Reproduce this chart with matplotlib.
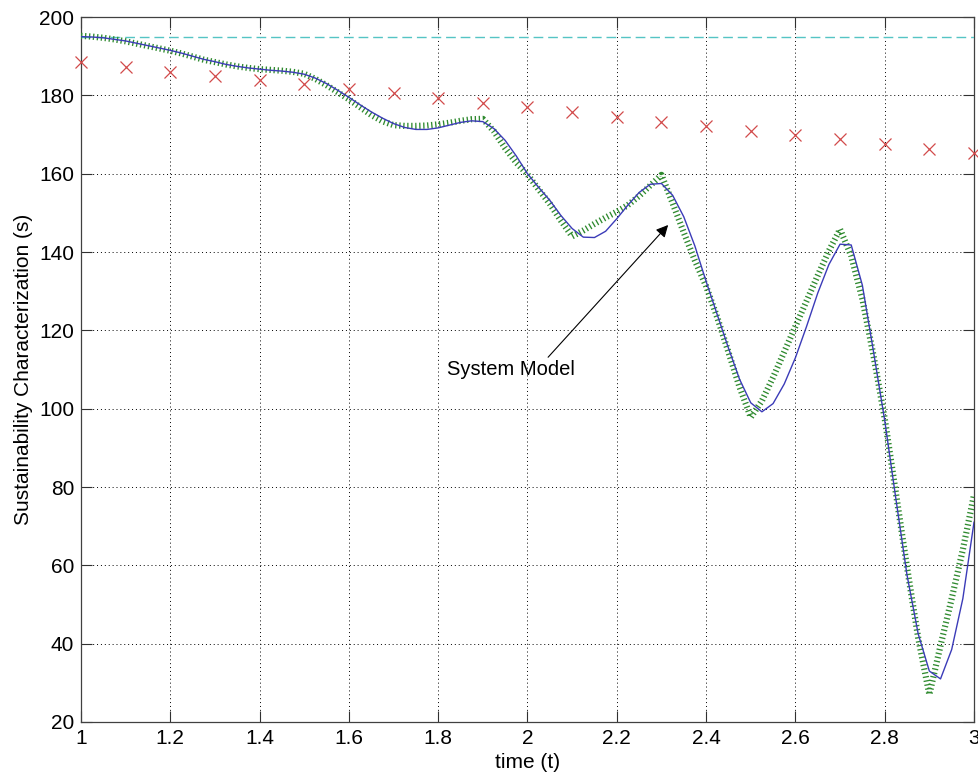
import numpy as np
import matplotlib
matplotlib.use('Agg')
import matplotlib.pyplot as plt
from matplotlib.ticker import FuncFormatter

plt.rcParams['font.family'] = ['Liberation Sans', 'DejaVu Sans']

# sample times of the model curves
t = np.round(np.arange(1.0, 3.0001, 0.025), 3)

# system model (solid blue)
model = [195.0, 194.9, 194.7, 194.3, 193.9, 193.3, 192.7, 192.1, 191.5, 190.8,
         190.0, 189.2, 188.6, 187.9, 187.4, 187.0, 186.7, 186.4, 186.2, 185.9,
         185.4, 184.4, 183.0, 181.3, 179.5, 177.6, 175.8, 174.2, 172.8, 171.8,
         171.3, 171.3, 171.7, 172.4, 173.1, 173.5, 173.3, 171.5, 168.5, 164.5,
         160.0, 156.5, 153.2, 149.3, 146.0, 143.8, 143.7, 145.3, 148.5, 152.0,
         155.2, 157.3, 157.5, 154.5, 149.0, 141.5, 132.5, 124.0, 115.5, 107.5,
         101.5, 99.2, 101.3, 106.3, 113.0, 121.0, 129.5, 136.8, 142.0, 141.8,
         131.5, 114.5, 97.0, 77.0, 57.5, 42.5, 33.0, 31.0, 38.5, 51.5,
         71.0]

# approximation (thick green dotted)
approx = [195.2, 195.0, 194.7, 194.3, 193.8, 193.2, 192.6, 192.0, 191.4, 190.7,
          189.9, 189.1, 188.5, 187.9, 187.4, 187.0, 186.7, 186.5, 186.3, 186.0,
          185.5, 184.2, 182.6, 180.8, 179.0, 177.0, 175.0, 173.4, 172.4, 172.2,
          172.2, 172.3, 172.6, 173.0, 173.5, 173.9, 174.0, 170.8, 166.5, 162.8,
          159.8, 156.0, 152.3, 148.0, 144.0, 145.5, 147.2, 148.8, 150.3, 152.0,
          154.3, 157.0, 159.7, 152.5, 145.0, 137.8, 131.3, 123.3, 114.5, 105.5,
          97.8, 102.0, 108.0, 114.5, 121.0, 127.5, 134.0, 140.3, 145.8, 139.0,
          128.0, 113.5, 97.5, 78.5, 59.5, 41.5, 27.0, 39.5, 51.5, 64.0,
          78.0]

# measured points (red x)
tPts = [1.0, 1.1, 1.2, 1.3, 1.4, 1.5, 1.6, 1.7, 1.8, 1.9, 2.0,
        2.1, 2.2, 2.3, 2.4, 2.5, 2.6, 2.7, 2.8, 2.9, 3.0]
sPts = [188.6, 187.3, 186.0, 185.0, 184.0, 182.8, 181.7, 180.5, 179.2, 178.0, 177.0,
        175.8, 174.6, 173.3, 172.2, 171.0, 169.8, 168.8, 167.6, 166.4, 165.4]

# upper limit (cyan dashed)
limitT = [1.0, 3.0]
limitS = [195.0, 195.0]

fig = plt.figure(figsize=(9.79, 7.78), dpi=100)
ax = fig.add_axes([0.0827, 0.072, 0.9122, 0.9061])

ax.plot(limitT, limitS, color='#55c4c4', lw=1.0, dashes=(7, 3.5), zorder=3)
ax.plot(tPts, sPts, 'x', color='#d24a4a', ms=8, mew=0.9, zorder=3,
        clip_on=False)
ax.plot(t, approx, color='#2f8a2f', lw=4.5, linestyle=(0, (0.21, 0.43)),
        dash_capstyle='butt', zorder=4)
ax.plot(t, model, color='#3b3bb8', lw=1.0, zorder=5)

ax.annotate('System Model', xy=(2.315, 146.9), xytext=(1.82, 110),
            fontsize=14.5, va='center', ha='left',
            arrowprops=dict(arrowstyle='-|>', color='black', lw=0.8,
                            mutation_scale=18, shrinkA=0, shrinkB=0,
                            relpos=(0.77, 1.0)))

ax.set_xlim(1, 3)
ax.set_ylim(20, 200)
ax.set_xticks(np.round(np.arange(1, 3.01, 0.2), 1))
ax.set_yticks(np.arange(20, 201, 20))
ax.xaxis.set_major_formatter(FuncFormatter(lambda v, p: '%g' % v))
ax.yaxis.set_major_formatter(FuncFormatter(lambda v, p: '%g' % v))
ax.tick_params(direction='in', length=8, width=0.8, colors='#303030',
               labelcolor='black', labelsize=15, top=True, right=True)
ax.tick_params(axis='x', pad=5)
ax.tick_params(axis='y', pad=5)
ax.grid(True, color='black', lw=0.7, linestyle=(0, (1, 3)))
for sp in ax.spines.values():
    sp.set_color('#404040')
    sp.set_linewidth(0.9)

ax.set_xlabel('time (t)', fontsize=15, labelpad=4)
ax.set_ylabel('Sustainability Characterization (s)', fontsize=15, labelpad=4)

fig.savefig('out.png', dpi=100)
